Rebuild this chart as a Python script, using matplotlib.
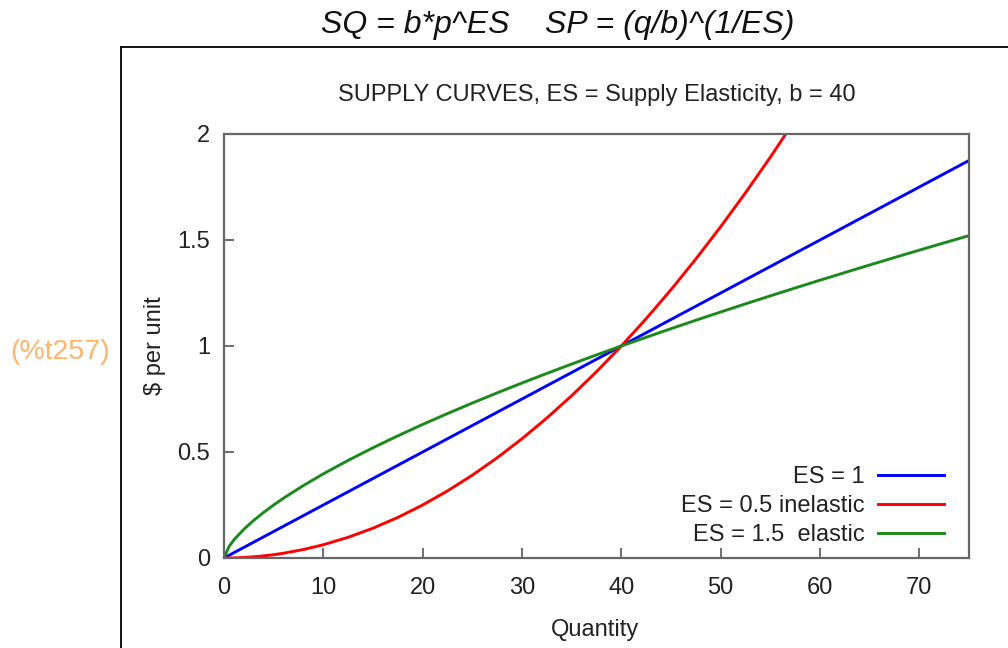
import matplotlib.pyplot as plt
from matplotlib.lines import Line2D

plt.rcParams['font.family'] = ['Liberation Sans', 'DejaVu Sans']

# quantity grid and price read for each elasticity (b = 40)
q = [0, 0.5, 1, 2, 3, 4, 5, 6, 8, 10, 12.5, 15, 17.5, 20, 22.5, 25, 27.5, 30,
     32.5, 35, 37.5, 40, 42.5, 45, 47.5, 50, 52.5, 55, 57.5, 60, 62.5, 65,
     67.5, 70, 72.5, 75]
p_es1 = [0, 0.0125, 0.025, 0.05, 0.075, 0.1, 0.125, 0.15, 0.2, 0.25, 0.3125,
         0.375, 0.4375, 0.5, 0.5625, 0.625, 0.6875, 0.75, 0.8125, 0.875,
         0.9375, 1.0, 1.0625, 1.125, 1.1875, 1.25, 1.3125, 1.375, 1.4375, 1.5,
         1.5625, 1.625, 1.6875, 1.75, 1.8125, 1.875]
p_es05 = [0, 0.0002, 0.0006, 0.0025, 0.0056, 0.01, 0.0156, 0.0225, 0.04,
          0.0625, 0.0977, 0.1406, 0.1914, 0.25, 0.3164, 0.3906, 0.4727, 0.5625,
          0.6602, 0.7656, 0.8789, 1.0, 1.1289, 1.2656, 1.4102, 1.5625, 1.7227,
          1.8906, 2.0664]
p_es15 = [0, 0.0539, 0.0855, 0.1357, 0.1778, 0.2154, 0.25, 0.2823, 0.342,
          0.3969, 0.4605, 0.52, 0.5763, 0.63, 0.6814, 0.731, 0.779, 0.8255,
          0.8707, 0.9148, 0.9579, 1.0, 1.0412, 1.0817, 1.1214, 1.1604, 1.1988,
          1.2365, 1.2737, 1.3104, 1.3465, 1.3822, 1.4174, 1.4522, 1.4866, 1.5206]
labels = ['ES = 1', 'ES = 0.5 inelastic', 'ES = 1.5  elastic']
colors = ['#0000ff', '#ff0000', '#1a8a1a']
xticks = [0, 10, 20, 30, 40, 50, 60, 70]
yticks = [0, 0.5, 1, 1.5, 2]

W, H = 1008, 648
fig = plt.figure(figsize=(W / 100, H / 100), dpi=100)
fig.patch.set_facecolor('white')

# cell frame and labels around the plot
fig.add_artist(Line2D([121 / W, 1.0], [1 - 47 / H, 1 - 47 / H], color='#111111', lw=1.4))
fig.add_artist(Line2D([121 / W, 121 / W], [0, 1 - 47 / H], color='#111111', lw=1.4))
fig.text(558 / W, 1 - 25 / H, 'SQ = b*p^ES    SP = (q/b)^(1/ES)', ha='center', va='center',
         fontsize=23, style='italic', color='#111111')
fig.text(60 / W, 1 - 352 / H, '(%t257)', ha='center', va='center', fontsize=20.5, color='#ffb46c')

ax = fig.add_axes([224 / W, 1 - 558 / H, 745 / W, 424 / H])
ax.plot(q, p_es1, color=colors[0], lw=2.1, label=labels[0])
ax.plot(q[:len(p_es05)], p_es05, color=colors[1], lw=2.1, label=labels[1])
ax.plot(q, p_es15, color=colors[2], lw=2.1, label=labels[2])

ax.set_xlim(0, 75)
ax.set_ylim(0, 2)
ax.set_xticks(xticks)
ax.set_xticklabels([str(t) for t in xticks])
ax.set_yticks(yticks)
ax.set_yticklabels(['0', '0.5', '1', '1.5', '2'])
ax.tick_params(direction='in', length=7, width=1.2, color='#555555', labelsize=17,
               labelcolor='#222222')
ax.tick_params(axis='x', pad=14)
ax.tick_params(axis='y', pad=10)
for s in ax.spines.values():
    s.set_color('#666666')
    s.set_linewidth(1.6)

ax.text(0.5, 1 + 39 / 424, 'SUPPLY CURVES, ES = Supply Elasticity, b = 40', transform=ax.transAxes,
        ha='center', va='center', fontsize=17, color='#222222')
ax.set_xlabel('Quantity', fontsize=17, color='#222222', va='center')
ax.xaxis.set_label_coords(0.498, -72 / 424)
ax.set_ylabel('$ per unit', fontsize=17, color='#222222', va='center')
ax.yaxis.set_label_coords(-69 / 745, 0.5)

ax.legend(loc='lower right', bbox_to_anchor=(1 - 25 / 745, 12 / 424), borderaxespad=0,
          markerfirst=False, frameon=False, fontsize=17, handlelength=2.8,
          handletextpad=0.55, labelspacing=0.3, borderpad=0, labelcolor='#222222')

fig.savefig('out.png', dpi=100, facecolor='white')
